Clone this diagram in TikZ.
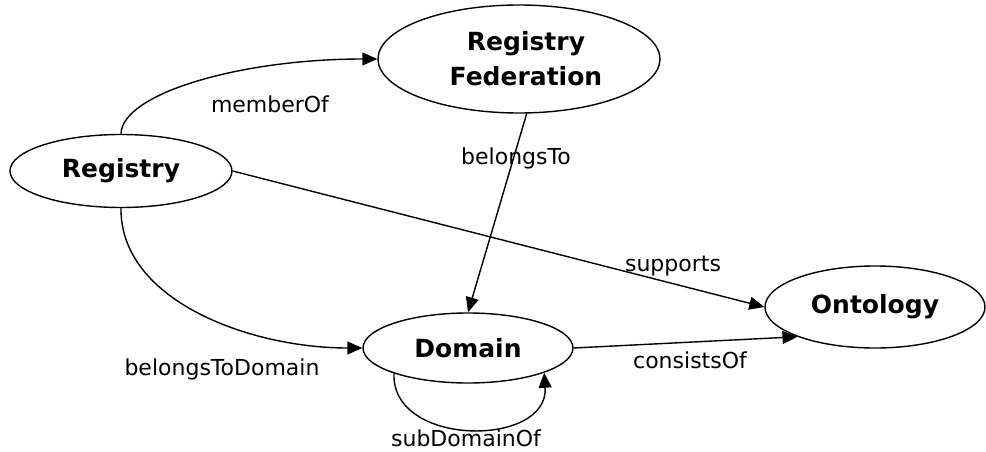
\documentclass[tikz,border=0pt]{standalone}
\usepackage{fontspec}
\setmainfont{DejaVu Sans}
\usetikzlibrary{shapes.geometric,arrows.meta}
\begin{document}
\begin{tikzpicture}[x=1pt,y=-1pt,
  ent/.style={ellipse,draw,line width=1.4pt,inner sep=0pt,align=center,
    font=\fontsize{25}{35}\selectfont\bfseries},
  rel/.style={line width=1.4pt,-{Triangle[length=15pt,width=13pt]}},
  lbl/.style={font=\fontsize{22}{26}\selectfont,inner sep=0pt}]
\useasboundingbox (0,0) rectangle (986,452);
\node[ent,minimum width=222pt,minimum height=73pt] (R) at (121,171) {Registry};
\node[ent,minimum width=282pt,minimum height=108pt] (F) at (519,59) {\hspace{14pt}Registry\\\hspace{14pt}Federation};
\node[ent,minimum width=210pt,minimum height=70pt] (D) at (468,348) {Domain};
\node[ent,minimum width=220pt,minimum height=82pt] (O) at (875,307) {Ontology};

\draw[rel] (R.north) .. controls +(1,-40) and +(-138,0) .. (F.west);
\draw[rel] (F.278) -- (D.north);
\draw[rel] (R.east) -- (O.west);
\draw[rel] (R.south) .. controls +(-1,92) and +(-113,0) .. (D.west);
\draw[rel] (D.east) -- (O.201);
\draw[rel] (D.199) .. controls +(-3,74) and +(5,75) .. (D.342);

\node[lbl] (l1) at (270,104) {memberOf};
\node[lbl] (l2) at (516,158) {belongsTo};
\node[lbl] (l3) at (673,266) {supports};
\node[lbl] (l4) at (222,369) {belongsToDomain};
\node[lbl] (l5) at (690,360) {consistsOf};
\node[lbl] (l6) at (466,438) {subDomainOf};
\end{tikzpicture}
\end{document}
